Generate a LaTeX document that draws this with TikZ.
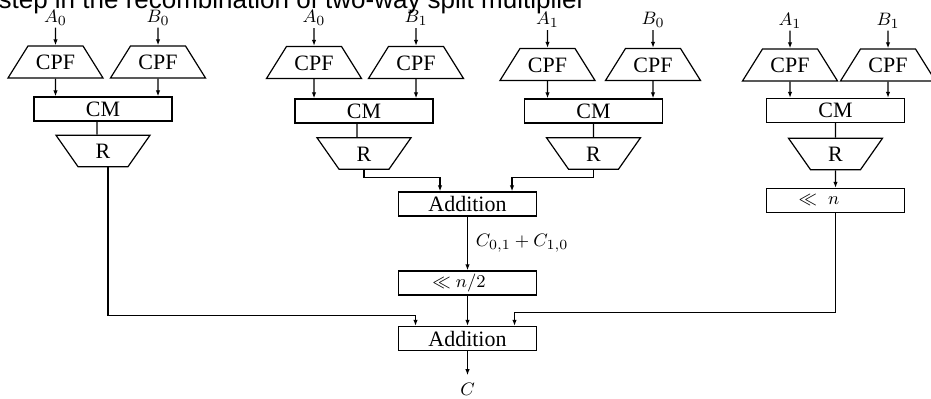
\documentclass[tikz,border=0pt]{standalone}
\usepackage[no-math]{fontspec}
\setmainfont{Liberation Serif}[Scale=1.18]
\newfontfamily\titlefont{Liberation Sans}
\usepackage{amsmath}
\usetikzlibrary{positioning}
\usetikzlibrary{arrows.meta,shapes.geometric}
\tikzset{box node/.style={rectangle,draw,minimum width=69pt,minimum height=12pt,inner sep=0pt},
  cpf node/.style={trapezium,draw,trapezium left angle=58,trapezium right angle=58,trapezium stretches body,minimum width=47.5pt,text height=8pt,text depth=0pt,inner xsep=0pt,inner ysep=4pt},
  r node/.style={trapezium,draw,shape border rotate=180,trapezium left angle=55,trapezium right angle=55,trapezium stretches body,minimum width=47pt,text height=8pt,text depth=0pt,inner xsep=0pt,inner ysep=3.875pt},
  in node/.style={inner sep=1pt} }

\begin{document}
\begin{tikzpicture}[x=1pt,y=1pt,line width=0.6pt,>={Latex[length=3pt,width=2.2pt]},
  every node/.style={font=\fontsize{9.3}{11}\selectfont}]
\useasboundingbox (0,0) rectangle (465.5,-199.5);
\begin{scope}[on grid]

  \node[anchor=base west,inner sep=0pt,font=\titlefont\fontsize{13}{15}\selectfont] (title) at (-1,-4.25) {step in the recombination of two-way split multiplier};

  \node[box node] (cm1) at (51.5,-54.5) {CM};
  \node[cpf node] (cpf1) [above left=23.5pt and 23.75pt of cm1] {CPF};
  \node[cpf node] (cpf2) [above right=23.5pt and 27.5pt of cm1] {CPF};
  \node[r node] (r1) [below=21pt of cm1] {R};
  \node[in node] (a1) [above=22.25pt of cpf1] {$A_0$};
  \node[in node] (b1) [above=22.25pt of cpf2] {$B_0$};

  \node[box node] (cm2) at (182,-55.5) {CM};
  \node[cpf node] (cpf3) [above left=24.25pt and 25pt of cm2] {CPF};
  \node[cpf node] (cpf4) [above right=24.25pt and 26pt of cm2] {CPF};
  \node[r node] (r2) [below=21.25pt of cm2] {R};
  \node[in node] (a2) [above=22.25pt of cpf3] {$A_0$};
  \node[in node] (b2) [above=22.25pt of cpf4] {$B_1$};

  \node[box node] (cm3) at (296.75,-55.5) {CM};
  \node[cpf node] (cpf5) [above left=23.25pt and 23pt of cm3] {CPF};
  \node[cpf node] (cpf6) [above right=23.25pt and 29.75pt of cm3] {CPF};
  \node[r node] (r3) [below=21.25pt of cm3] {R};
  \node[in node] (a3) [above=22.25pt of cpf5] {$A_1$};
  \node[in node] (b3) [above=22.25pt of cpf6] {$B_0$};

  \node[box node] (cm4) at (417.75,-55.25) {CM};
  \node[cpf node] (cpf7) [above left=22.75pt and 22.75pt of cm4] {CPF};
  \node[cpf node] (cpf8) [above right=22.75pt and 26.25pt of cm4] {CPF};
  \node[r node] (r4) [below=21.75pt of cm4] {R};
  \node[box node] (sh1) [below=23.25pt of r4] {$\ll$\ \ $n$\kern16.5pt};
  \node[in node] (a4) [above=22.25pt of cpf7] {$A_1$};
  \node[in node] (b4) [above=22.25pt of cpf8] {$B_1$};

  \node[box node] (add1) at (233.75,-102) {Addition};
  \node[box node] (sh2) [below=39.5pt of add1] {$\ll n/2$\kern8.5pt};
  \node[box node] (add2) [below=27.75pt of sh2] {Addition};
  \node[inner sep=3.5pt] (c) [below=25.25pt of add2] {$C$};

    \path[->]

    (a1) edge (cpf1)
    (b1) edge (cpf2)
    (a2) edge (cpf3)
    (b2) edge (cpf4)
    (a3) edge (cpf5)
    (b3) edge (cpf6)
    (a4) edge (cpf7)
    (b4) edge (cpf8)

    (cpf1) edge (cpf1 |- cm1.north)
    (cpf2) edge (cpf2 |- cm1.north)
    (cpf3) edge (cpf3 |- cm2.north)
    (cpf4) edge (cpf4 |- cm2.north)
    (cpf5) edge (cpf5 |- cm3.north)
    (cpf6) edge (cpf6 |- cm3.north)
    (cpf7) edge (cpf7 |- cm4.north)
    (cpf8) edge (cpf8 |- cm4.north)

    (r4) edge (sh1)
    (add1) edge node[right] {$C_{0,1}+C_{1,0}$} (sh2)
    (sh2) edge (add2)
    (add2) edge (c)
    ;
     \draw ([xshift=-3pt]cm1.south) -- ([xshift=-3pt]r1.north);
     \draw ([xshift=-3.5pt]cm2.south) -- ([xshift=-3.5pt]r2.north);
     \draw (cm3) -- (r3);
     \draw (cm4) -- (r4);

     \draw[->] ([xshift=2.5pt]r1.south) |- ([xshift=-26pt,yshift=5pt]add2.north) -- ([xshift=-26pt]add2.north);
     \draw[->] (r2.south) |- ([xshift=-13.75pt,yshift=7pt]add1.north) -- ([xshift=-13.75pt]add1.north);
     \draw[->] (r3.south) |- ([xshift=22.25pt,yshift=7pt]add1.north) -- ([xshift=22.25pt]add1.north);
     \draw[->] (sh1.south) |- ([xshift=23.5pt,yshift=6.5pt]add2.north) -- ([xshift=23.5pt]add2.north);
    \end{scope}
\end{tikzpicture}
\end{document}
